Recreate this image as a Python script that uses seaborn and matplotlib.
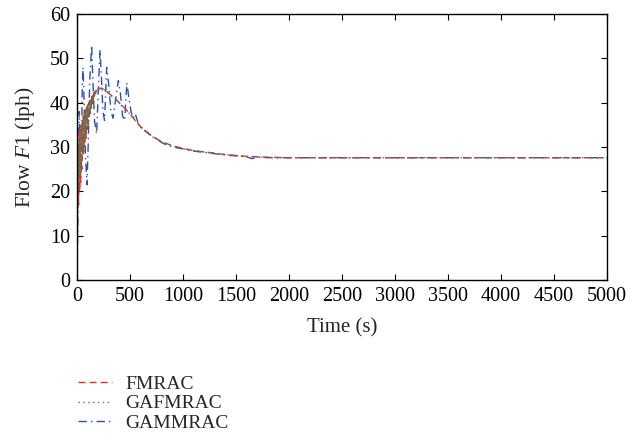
import numpy as np
import pandas as pd
import matplotlib
matplotlib.use("Agg")
import matplotlib.pyplot as plt
import seaborn as sns

# time axis shared by FMRAC and GAFMRAC (s)
t_fm = [0, 5, 10, 15, 20, 25, 30, 35, 40, 45, 50, 55, 60, 65, 70, 75, 80, 85, 90, 95,
        100, 105, 110, 115, 120, 125, 130, 135, 140, 145, 150, 155, 160, 165, 170, 175,
        180, 185, 190, 195, 200, 210, 220, 230, 240, 250, 260, 270, 280, 290, 300,
        350, 400, 450, 500, 550, 600, 700, 800, 900, 1000, 1100, 1200, 1300, 1400,
        1500, 1600, 1700, 1800, 2000, 2500, 3000, 4000, 5000]

fmrac = [0, 14, 30, 17, 33, 20, 34, 22, 35, 25, 36, 28, 37, 29, 38, 31, 38.5, 32, 39, 34,
         39.5, 35, 40, 36.5, 40.5, 37.5, 41, 38.5, 41.5, 39.5, 42, 40.5, 42.3, 41.5, 42.6, 42,
         42.8, 42.5, 43, 42.8, 43.1, 43.2, 43.3, 43.3, 43.2, 43.1, 43.0, 42.8, 42.6, 42.4, 42.1,
         41.2, 40.0, 38.8, 37.5, 36.0, 34.6, 32.6, 31.2, 30.3, 29.7, 29.2, 28.9, 28.6, 28.3,
         28.1, 27.9, 27.8, 27.7, 27.6, 27.6, 27.6, 27.6, 27.6]

gafmrac = [0, 10, 27, 20, 31, 23, 33, 24, 34.5, 27, 35.5, 29, 36.5, 30.5, 37.5, 32, 38, 33.5, 38.5, 35,
           39.5, 36, 40, 37, 40.5, 38, 41, 39, 41.3, 40, 41.8, 41, 42.2, 41.8, 42.5, 42.2,
           42.7, 42.6, 42.9, 42.8, 43.0, 43.1, 43.2, 43.2, 43.1, 43.0, 42.9, 42.7, 42.5, 42.3, 42.0,
           41.1, 39.9, 38.7, 37.4, 35.9, 34.5, 32.5, 31.1, 30.2, 29.6, 29.2, 28.9, 28.6, 28.3,
           28.1, 27.9, 27.8, 27.7, 27.6, 27.6, 27.6, 27.6, 27.6]

# GAMMRAC oscillates more slowly and wider
t_gam = [0, 10, 20, 30, 40, 50, 57, 70, 80, 94, 105, 120, 138, 150, 165, 185, 200, 217, 230,
         245, 260, 280, 300, 320, 340, 360, 390, 410, 430, 450, 470, 490, 510, 530, 550, 575,
         600, 650, 700, 750, 800, 850, 900, 950, 1000, 1100, 1200, 1300, 1400, 1500, 1600,
         1650, 1700, 1800, 2000, 2500, 5000]

gammrac = [0, 18, 38, 30, 26, 44, 48, 38, 28, 21.5, 30, 45, 53, 45, 36, 33, 42, 52, 46,
           38, 36, 48, 44, 38, 36.5, 40, 45, 42, 37, 36, 44.5, 41, 38, 36.5, 37.5, 35.5,
           34.5, 33.5, 32.6, 31.8, 31.0, 30.4, 30.1, 29.8, 29.6, 29.1, 28.8, 28.5, 28.2, 28.0, 27.8,
           27.4, 27.7, 27.6, 27.6, 27.6, 27.6]

x_ticks = [0, 500, 1000, 1500, 2000, 2500, 3000, 3500, 4000, 4500, 5000]
y_ticks = [0, 10, 20, 30, 40, 50, 60]

sns.set_style("ticks")
plt.rcParams['font.family'] = ['Liberation Serif', 'DejaVu Serif']
plt.rcParams['mathtext.fontset'] = 'custom'
plt.rcParams['mathtext.it'] = 'Liberation Serif:italic'
plt.rcParams['mathtext.rm'] = 'Liberation Serif'

fig = plt.figure(figsize=(6.39, 4.43), dpi=100)
ax = fig.add_axes([0.1205, 0.368, 0.8295, 0.600])

df_fm = pd.DataFrame({'t': t_fm, 'FMRAC': fmrac, 'GAFMRAC': gafmrac})
df_gam = pd.DataFrame({'t': t_gam, 'GAMMRAC': gammrac})

# blue underneath, then red, green dots on top of the band
sns.lineplot(data=df_gam, x='t', y='GAMMRAC', ax=ax, color='#2c4fb5', lw=1.0,
             label='GAMMRAC', sort=False, estimator=None)
ax.lines[-1].set_dashes((6, 3, 1, 3))
sns.lineplot(data=df_fm, x='t', y='FMRAC', ax=ax, color='#e8282c', lw=1.0,
             label='FMRAC', sort=False, estimator=None)
ax.lines[-1].set_dashes((5, 3))
sns.lineplot(data=df_fm, x='t', y='GAFMRAC', ax=ax, color='#2f9553', lw=1.0,
             label='GAFMRAC', sort=False, estimator=None)
ax.lines[-1].set_dashes((1, 2.5))

ax.set_xlim(0, 5000)
ax.set_ylim(0, 60)
ax.set_xticks(x_ticks)
ax.set_yticks(y_ticks)
ax.tick_params(direction='in', top=True, right=True, labelsize=14.5, length=4, width=0.8,
               colors='black', pad=5)
for s in ax.spines.values():
    s.set_linewidth(1.0)
    s.set_color('black')
ax.set_xlabel('Time (s)', fontsize=15, labelpad=9)
ax.set_ylabel('Flow $F1$ (lph)', fontsize=15.5, labelpad=9)

handles, labels = ax.get_legend_handles_labels()
ax.get_legend().remove()
order = [1, 2, 0]
fig.legend([handles[i] for i in order], [labels[i] for i in order],
           loc='upper left', bbox_to_anchor=(0.122, 0.153),
           frameon=False, fontsize=14, handlelength=1.75, handletextpad=0.7,
           labelspacing=0.1, borderpad=0, borderaxespad=0)

fig.savefig('out.png', dpi=100)
